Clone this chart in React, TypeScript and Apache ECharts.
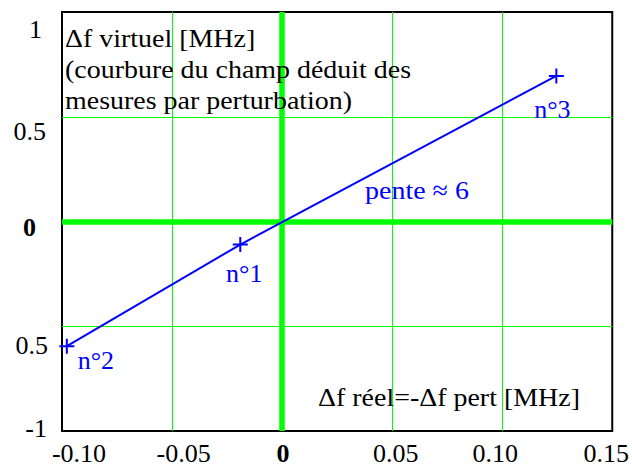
import React, { useEffect, useRef } from "react";
import * as echarts from "echarts";

// Axis ticks and their printed labels (as in the original figure)
const xTicks = [-0.1, -0.05, 0, 0.05, 0.1, 0.15];
const xTickLabels = ["-0.10", "-0.05", "0", "0.05", "0.10", "0.15"];
const yTicks = [-1, -0.5, 0, 0.5, 1];
const yTickLabels = ["-1", "0.5", "0", "0.5", "1"];

// Measurement points (sorted by x)
const pointNames = ["n°2", "n°1", "n°3"];
const pointX = [-0.0978, -0.019, 0.1246];
const pointY = [-0.595, -0.11, 0.695];

// Annotation texts
const yTitleLines = ["Δf virtuel [MHz]", "(courbure du champ déduit des", "mesures par perturbation)"];
const xTitle = "Δf réel=-Δf pert [MHz]";
const slopeText = "pente ≈ 6";

const FONT = '"Liberation Serif", "Times New Roman", serif';
const FS = 26;
const BLUE = "#0000ff";
const GREEN = "#00ff00";
const STRETCH = 1.075;

// label fine offsets (style only)
const xLabelDx = [17, 11.5, 1, 3.5, -7, -6];
const yLabelDy = [-3, 19, 6, 15, 17];
const yLabelRight = [1, 0, 12, 2, 6];
const pointLabelOffset: [number, number][] = [[29, 14], [4, 29], [-4, 34]];

function idx(arr: number[], v: number) {
  return arr.findIndex((t) => Math.abs(t - v) < 1e-9);
}

export default function App() {
  const ref = useRef<HTMLDivElement>(null);
  useEffect(() => {
    if (!ref.current) return;
    const chart = echarts.init(ref.current, undefined, { renderer: "svg" });

    const xRich: Record<string, any> = {};
    xTicks.forEach((_, i) => {
      const d = xLabelDx[i];
      xRich["x" + i] = {
        fontFamily: FONT,
        fontSize: FS,
        color: "#000",
        fontWeight: xTicks[i] === 0 ? "bold" : "normal",
        padding: d >= 0 ? [0, 0, 0, 2 * d] : [0, -2 * d, 0, 0],
      };
    });
    const yRich: Record<string, any> = {};
    yTicks.forEach((_, i) => {
      const d = yLabelDy[i];
      const r = yLabelRight[i];
      yRich["y" + i] = {
        fontFamily: FONT,
        fontSize: FS,
        color: "#000",
        fontWeight: yTicks[i] === 0 ? "bold" : "normal",
        padding: d >= 0 ? [2 * d, r, 0, 0] : [0, r, -2 * d, 0],
      };
    });

    const data = pointX.map((x, i) => ({
      value: [x, pointY[i]],
      name: pointNames[i],
      label: {
        show: true,
        position: "inside",
        offset: pointLabelOffset[i],
        formatter: pointNames[i],
        color: BLUE,
        fontFamily: FONT,
        fontSize: FS,
      },
    }));

    chart.setOption({
      animation: false,
      backgroundColor: "#fff",
      grid: {
        left: 62,
        right: 16,
        top: 12,
        bottom: 34,
        show: true,
        borderColor: "#000",
        borderWidth: 2,
        backgroundColor: "transparent",
      },
      xAxis: {
        type: "value",
        min: -0.1,
        max: 0.15,
        interval: 0.05,
        axisLine: { show: false },
        axisTick: { show: false },
        splitLine: { show: true, showMinLine: false, showMaxLine: false, lineStyle: { color: GREEN, width: 1 } },
        axisLabel: {
          margin: 9,
          formatter: (v: number) => {
            const i = idx(xTicks, v);
            return i < 0 ? "" : `{x${i}|${xTickLabels[i]}}`;
          },
          rich: xRich,
        },
      },
      yAxis: {
        type: "value",
        min: -1,
        max: 1,
        interval: 0.5,
        axisLine: { show: false },
        axisTick: { show: false },
        splitLine: { show: true, showMinLine: false, showMaxLine: false, lineStyle: { color: GREEN, width: 1 } },
        axisLabel: {
          margin: 14,
          formatter: (v: number) => {
            const i = idx(yTicks, v);
            return i < 0 ? "" : `{y${i}|${yTickLabels[i]}}`;
          },
          rich: yRich,
        },
      },
      series: [
        {
          type: "line",
          data: [],
          z: 1,
          markLine: {
            silent: true,
            z: 1,
            symbol: "none",
            label: { show: false },
            lineStyle: { color: GREEN, width: 5.5, type: "solid" },
            data: [{ xAxis: 0 }, { yAxis: 0 }],
          },
        },
        {
          type: "line",
          z: 3,
          data,
          symbol: "path://M1,0L1,2M0,1L2,1",
          symbolSize: 15,
          itemStyle: { color: BLUE, borderColor: BLUE, borderWidth: 2 },
          lineStyle: { color: BLUE, width: 2 },
        },
      ],
      graphic: [
        {
          type: "text",
          x: 65,
          y: 23,
          scaleX: STRETCH,
          z: 10,
          style: {
            text: yTitleLines.join("\n"),
            fontFamily: FONT,
            fontSize: FS,
            lineHeight: 31,
            fill: "#000",
            align: "left",
            verticalAlign: "top",
          },
        },
        {
          type: "text",
          x: 417,
          y: 190,
          scaleX: STRETCH,
          z: 10,
          style: {
            text: slopeText,
            fontFamily: FONT,
            fontSize: FS,
            fill: BLUE,
            align: "center",
            verticalAlign: "middle",
          },
        },
        {
          type: "text",
          x: 449,
          y: 397,
          scaleX: STRETCH,
          z: 10,
          style: {
            text: xTitle,
            fontFamily: FONT,
            fontSize: FS,
            fill: "#000",
            align: "center",
            verticalAlign: "middle",
          },
        },
      ],
    });
    return () => chart.dispose();
  }, []);
  return (
    <div
      ref={ref}
      style={{ position: "absolute", left: 0, top: 0, width: 632, height: 466 }}
    />
  );
}
